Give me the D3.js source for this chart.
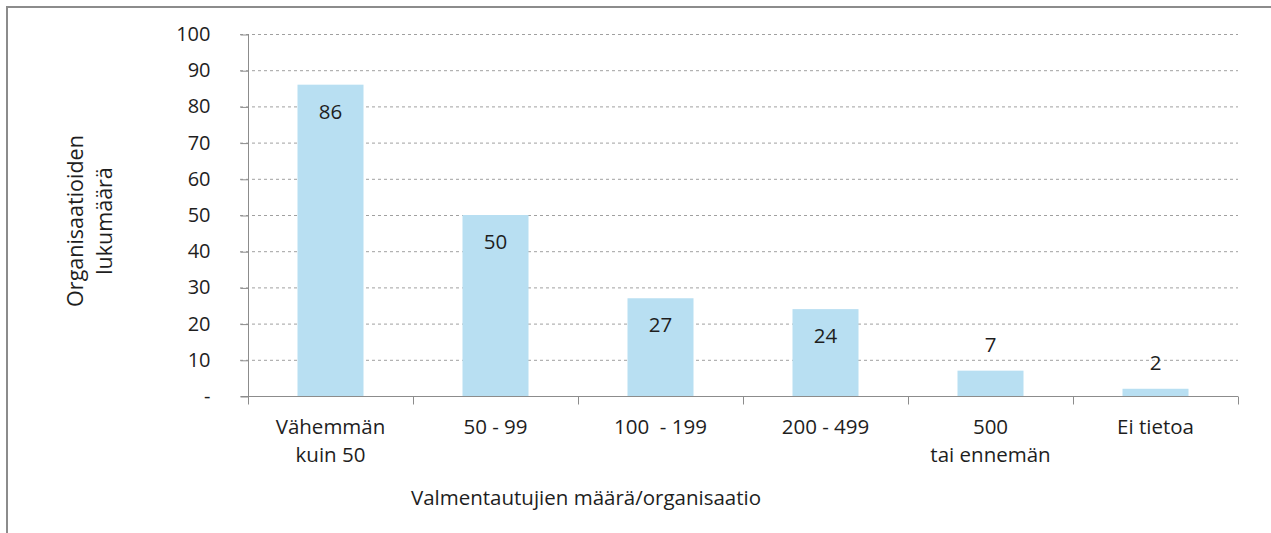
<!DOCTYPE html>
<html lang="fi">
<head>
<meta charset="UTF-8">
<title>Valmentautujien määrä/organisaatio</title>
<script src="https://d3js.org/d3.v7.min.js"></script>
<style>
  body { margin: 0; background: #fff; font-family: "Open Sans", sans-serif; }
  svg text { fill: #1e1e1e; }
</style>
</head>
<body>
<svg id="chart" width="1271" height="533"></svg>
<script>
  // data
  const categories = [["Vähemmän", "kuin 50"], ["50 - 99"], ["100\u00a0 - 199"], ["200 - 499"], ["500", "tai ennemän"], ["Ei tietoa"]];
  const counts = [86, 50, 27, 24, 7, 2];
  const yTicks = [0, 10, 20, 30, 40, 50, 60, 70, 80, 90, 100];

  const svg = d3.select("#chart");
  const plotLeft = 248, plotRight = 1238, plotTop = 34, plotBottom = 396;
  const fontFam = "'Open Sans', sans-serif";

  // outer frame (only top and left edges visible)
  svg.append("path")
    .attr("d", "M7,533 V7 H1271")
    .attr("fill", "none")
    .attr("stroke", "#8c8c8c")
    .attr("stroke-width", 2);

  const x = d3.scaleBand().domain(d3.range(categories.length)).range([plotLeft, plotRight]).paddingInner(0.6).paddingOuter(0.3);
  const xb = d3.scaleBand().domain(d3.range(categories.length)).range([plotLeft, plotRight]);
  const y = d3.scaleLinear().domain([0, 100]).range([plotBottom, plotTop]);

  // gridlines
  svg.append("g").selectAll("line").data(yTicks.filter(d => d > 0)).join("line")
    .attr("x1", plotLeft - 8).attr("x2", plotRight)
    .attr("y1", d => y(d) + 0.5).attr("y2", d => y(d) + 0.5)
    .attr("stroke", "#a0a0a0").attr("stroke-dasharray", "3,3");

  // y axis
  const yAxis = svg.append("g").attr("transform", `translate(${plotLeft + 0.5},0)`)
    .call(d3.axisLeft(y).tickValues(yTicks).tickSize(8).tickPadding(30)
      .tickFormat(d => d === 0 ? "-" : d));
  yAxis.select(".domain").attr("stroke", "#8c8c8c").attr("d", `M-8,${plotBottom + 0.5}H0V${plotTop}`);
  yAxis.selectAll(".tick line").attr("stroke", "#8c8c8c").attr("transform", "translate(0,0.5)");
  yAxis.selectAll(".tick text").attr("font-family", fontFam).attr("font-size", 20).attr("fill", "#1e1e1e");

  // bars
  svg.append("g").selectAll("rect").data(counts).join("rect")
    .attr("x", (d, i) => x(i)).attr("width", x.bandwidth())
    .attr("y", d => y(d)).attr("height", d => plotBottom - y(d))
    .attr("fill", "#b8dff2");

  // x axis
  const xAxis = svg.append("g").attr("transform", `translate(0,${plotBottom + 0.5})`);
  xAxis.append("line").attr("x1", plotLeft).attr("x2", plotRight).attr("stroke", "#8c8c8c");
  xAxis.selectAll("line.tk").data(d3.range(categories.length + 1)).join("line")
    .attr("class", "tk")
    .attr("x1", i => (i < categories.length ? xb(i) : plotRight) + 0.5)
    .attr("x2", i => (i < categories.length ? xb(i) : plotRight) + 0.5)
    .attr("y1", 0).attr("y2", 8).attr("stroke", "#8c8c8c");

  // category labels
  const lbl = svg.append("g").selectAll("text").data(categories).join("text")
    .attr("text-anchor", "middle").attr("font-size", 20.5)
    .attr("x", (d, i) => xb(i) + xb.bandwidth() / 2);
  lbl.selectAll("tspan").data(d => d).join("tspan")
    .attr("x", function () { return this.parentNode.getAttribute("x"); })
    .attr("y", (d, j) => 434 + j * 28)
    .text(d => d);

  // value labels
  svg.append("g").selectAll("text").data(counts).join("text")
    .attr("text-anchor", "middle").attr("font-size", 20.5)
    .attr("x", (d, i) => x(i) + x.bandwidth() / 2)
    .attr("y", d => d > 15 ? y(d) + 34 : y(d) - 19)
    .text(d => d);

  // axis titles
  svg.append("text").attr("text-anchor", "middle").attr("font-size", 20.5)
    .attr("x", 586).attr("y", 505).text("Valmentautujien määrä/organisaatio");

  const yt = svg.append("text").attr("text-anchor", "middle").attr("font-size", 21.5)
    .attr("transform", "translate(83,221) rotate(-90)");
  yt.append("tspan").attr("x", 0).attr("y", 0).text("Organisaatioiden");
  yt.append("tspan").attr("x", 0).attr("y", 29).text("lukumäärä");
</script>
</body>
</html>
